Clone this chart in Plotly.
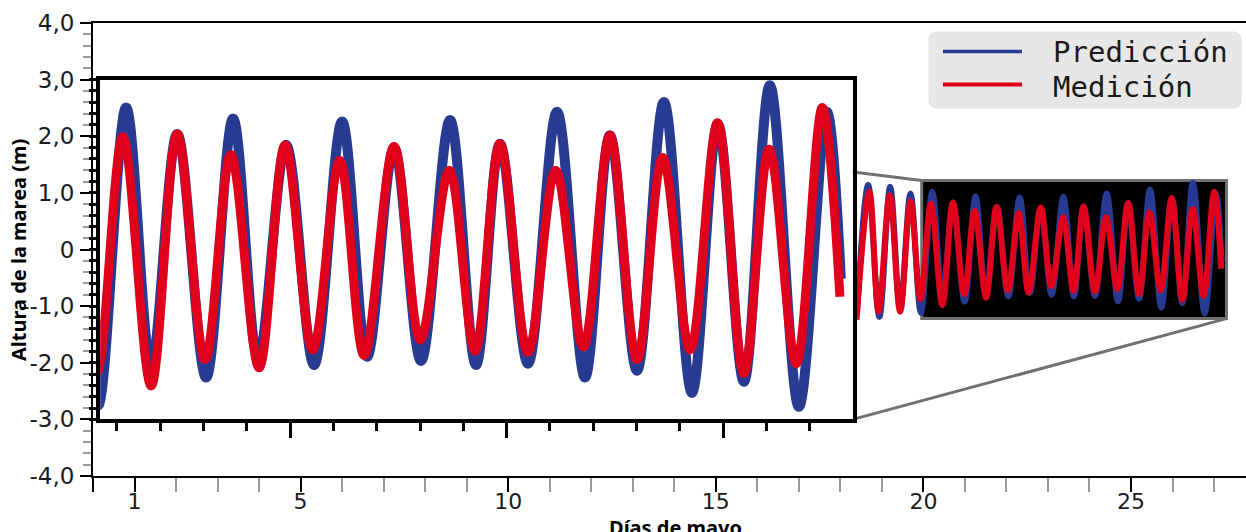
import plotly.graph_objects as go

# ---------------- data ----------------
# Tidal extrema, days of May, metres
days_pred = [18.40, 18.67, 18.94, 19.20, 19.44, 19.69, 19.94, 20.213, 20.457, 20.711,
             20.993, 21.256, 21.500, 21.773, 22.046, 22.319, 22.563, 22.826, 23.089, 23.372,
             23.625, 23.859, 24.132, 24.415, 24.688, 24.931, 25.195, 25.458, 25.731, 25.984,
             26.238, 26.491, 26.774, 27.047, 27.183]
pred = [-1.15, 1.14, -1.19, 1.11, -1.05, 0.99, -1.12, 1.02, -0.83, 0.83,
        -0.92, 0.94, -0.79, 0.75, -0.83, 0.92, -0.77, 0.73, -0.80, 0.93,
        -0.83, 0.76, -0.82, 0.99, -0.92, 0.82, -0.87, 1.06, -1.03, 0.90,
        -0.95, 1.18, -1.13, 0.99, -0.21]

days_meas = [18.39, 18.70, 18.92, 19.19, 19.44, 19.69, 19.93, 20.181, 20.457, 20.711,
             20.983, 21.234, 21.510, 21.763, 22.033, 22.296, 22.534, 22.826, 23.082, 23.365,
             23.615, 23.859, 24.132, 24.402, 24.672, 24.931, 25.195, 25.445, 25.714, 25.981,
             26.238, 26.484, 26.748, 27.002, 27.174]
meas = [-1.24, 1.02, -1.10, 0.96, -1.10, 0.85, -0.88, 0.81, -0.98, 0.83,
        -0.79, 0.68, -0.85, 0.75, -0.72, 0.64, -0.76, 0.74, -0.65, 0.57,
        -0.73, 0.76, -0.74, 0.57, -0.70, 0.82, -0.79, 0.66, -0.72, 0.91,
        -0.89, 0.72, -0.82, 1.02, -0.34]

x_tickvals = [0, 1, 5, 10, 15, 20, 25]
x_ticktext = ["", "1", "5", "10", "15", "20", "25"]
y_tickvals = [4, 3, 2, 1, 0, -1, -2, -3, -4]
y_ticktext = ["4,0", "3,0", "2,0", "1,0", "0", "--1,0", "-2,0", "-3,0", "-4,0"]

legend_labels = ["Predicción", "Medición"]
x_title = "Días de mayo"
y_title = "Altura de la marea (m)"

# ---------------- geometry / style ----------------
W, H = 1246, 532
L, R, T, B = 93, 0, 23, 56
X_RANGE = [0, 27.77]
Y_RANGE = [-4, 4]
BOX_X = [19.96, 27.30]      # magnified region (main axis units)
BOX_Y = [-1.22, 1.22]
INSET_X = [0.173, 18.30]    # where the magnified view is drawn
INSET_Y = [-3.0, 3.0]
INSET_TICK0 = 21.812
INSET_MINOR_DTICK = 0.4224

BLUE = "#283b92"
RED = "#e1001b"
GREY_LINE = "#707070"
FONT = "DejaVu Sans"
TITLE_FONT = "Noto Sans"

pw, ph = W - L - R, H - T - B


def px_x(p):
    return (p - L) / pw


def px_y(p):
    return (H - B - p) / ph


fig = go.Figure()

# main axes (real scale)
fig.add_trace(go.Scatter(x=days_pred, y=pred, mode="lines", name=legend_labels[0],
                         line=dict(color=BLUE, width=6, shape="spline", smoothing=1),
                         xaxis="x", yaxis="y", showlegend=False, hoverinfo="skip"))
fig.add_trace(go.Scatter(x=days_meas, y=meas, mode="lines", name=legend_labels[1],
                         line=dict(color=RED, width=6, shape="spline", smoothing=1),
                         xaxis="x", yaxis="y", showlegend=False, hoverinfo="skip"))
# magnified inset
fig.add_trace(go.Scatter(x=days_pred, y=pred, mode="lines", name=legend_labels[0],
                         line=dict(color=BLUE, width=10, shape="spline", smoothing=1),
                         xaxis="x2", yaxis="y2", showlegend=False, hoverinfo="skip"))
fig.add_trace(go.Scatter(x=days_meas, y=meas, mode="lines", name=legend_labels[1],
                         line=dict(color=RED, width=9, shape="spline", smoothing=1),
                         xaxis="x2", yaxis="y2", showlegend=False, hoverinfo="skip"))

span_x = X_RANGE[1] - X_RANGE[0]
span_y = Y_RANGE[1] - Y_RANGE[0]
inset_dom_x = [(INSET_X[0] - X_RANGE[0]) / span_x, (INSET_X[1] - X_RANGE[0]) / span_x]
inset_dom_y = [(INSET_Y[0] - Y_RANGE[0]) / span_y, (INSET_Y[1] - Y_RANGE[0]) / span_y]

fig.update_layout(
    width=W, height=H,
    margin=dict(l=L, r=R, t=T, b=B, pad=0, autoexpand=False),
    paper_bgcolor="white", plot_bgcolor="white",
    showlegend=False,
    xaxis=dict(range=X_RANGE, domain=[0, 1], showline=True, linecolor="black", linewidth=2,
               mirror=True, ticks="outside", ticklen=14, tickwidth=2, tickcolor="black",
               tickmode="array", tickvals=x_tickvals, ticktext=x_ticktext,
               tickfont=dict(family=FONT, size=22, color="#1a1a1a"), ticklabelstandoff=-9,
               minor=dict(ticks="outside", ticklen=14, tickwidth=2, tickcolor="#9a9a9a",
                          tick0=0, dtick=1),
               showgrid=False, zeroline=False, fixedrange=True, automargin=False),
    yaxis=dict(range=Y_RANGE, domain=[0, 1], showline=True, linecolor="black", linewidth=2,
               ticks="outside", ticklen=11, tickwidth=2, tickcolor="black",
               tickmode="array", tickvals=y_tickvals, ticktext=y_ticktext,
               tickfont=dict(family=FONT, size=23, color="#1a1a1a"), ticklabelstandoff=1,
               minor=dict(ticks="outside", ticklen=8, tickwidth=2, tickcolor="#9a9a9a",
                          tick0=0, dtick=0.2),
               showgrid=False, zeroline=False, fixedrange=True, automargin=False),
    xaxis2=dict(domain=inset_dom_x, range=BOX_X, anchor="y2", showline=True, mirror=True,
                linecolor="black", linewidth=4, ticks="outside", ticklen=15, tickwidth=3,
                tickcolor="black", tick0=INSET_TICK0, dtick=5 * INSET_MINOR_DTICK,
                showticklabels=False,
                minor=dict(ticks="outside", ticklen=8, tickwidth=3, tickcolor="black",
                           tick0=INSET_TICK0, dtick=INSET_MINOR_DTICK),
                showgrid=False, zeroline=False, fixedrange=True, automargin=False),
    yaxis2=dict(domain=inset_dom_y, range=BOX_Y, anchor="x2", showline=True, mirror=True,
                linecolor="black", linewidth=4, ticks="outside", ticklen=7, tickwidth=3,
                tickcolor="black", tick0=0, dtick=(BOX_Y[1] - BOX_Y[0]) / 30,
                showticklabels=False, showgrid=False, zeroline=False, fixedrange=True,
                automargin=False),
)

shapes = []
# magnified region on the main axis
shapes.append(dict(type="rect", xref="x", yref="y", x0=BOX_X[0], x1=BOX_X[1],
                   y0=BOX_Y[0], y1=BOX_Y[1], fillcolor="black",
                   line=dict(color=GREY_LINE, width=3), layer="below"))
# connector lines
shapes.append(dict(type="line", xref="x", yref="y", x0=INSET_X[0], y0=INSET_Y[1],
                   x1=BOX_X[0], y1=BOX_Y[1], line=dict(color=GREY_LINE, width=3), layer="below"))
shapes.append(dict(type="line", xref="x", yref="y", x0=INSET_X[1], y0=INSET_Y[0],
                   x1=BOX_X[1], y1=BOX_Y[0], line=dict(color=GREY_LINE, width=3), layer="below"))

# custom legend box (rounded)
lx0, lx1, ly0, ly1, r = 929, 1241, 32, 108, 8
path = (f"M {px_x(lx0 + r)},{px_y(ly0)} L {px_x(lx1 - r)},{px_y(ly0)} "
        f"Q {px_x(lx1)},{px_y(ly0)} {px_x(lx1)},{px_y(ly0 + r)} "
        f"L {px_x(lx1)},{px_y(ly1 - r)} Q {px_x(lx1)},{px_y(ly1)} {px_x(lx1 - r)},{px_y(ly1)} "
        f"L {px_x(lx0 + r)},{px_y(ly1)} Q {px_x(lx0)},{px_y(ly1)} {px_x(lx0)},{px_y(ly1 - r)} "
        f"L {px_x(lx0)},{px_y(ly0 + r)} Q {px_x(lx0)},{px_y(ly0)} {px_x(lx0 + r)},{px_y(ly0)} Z")
shapes.append(dict(type="path", xref="paper", yref="paper", path=path,
                   fillcolor="#e7e7e7", line=dict(color="#e0e0e0", width=1), layer="above"))
for yy, col, wdt in [(51.5, BLUE, 3.5), (84.5, RED, 4)]:
    shapes.append(dict(type="line", xref="paper", yref="paper", x0=px_x(943), x1=px_x(1022),
                       y0=px_y(yy), y1=px_y(yy), line=dict(color=col, width=wdt), layer="above"))

annotations = []
for label, yy in zip(legend_labels, [52, 87]):
    annotations.append(dict(text=label, xref="paper", yref="paper", x=px_x(1051), y=px_y(yy),
                            xanchor="left", yanchor="middle", showarrow=False,
                            font=dict(family="DejaVu Sans Mono", size=29, color="#1a1a1a")))
annotations.append(dict(text=f"<b>{x_title}</b>", xref="paper", yref="paper",
                        x=px_x(675), y=px_y(512), xanchor="center", yanchor="top",
                        showarrow=False, font=dict(family=TITLE_FONT, size=20, color="black")))
annotations.append(dict(text=f"<b>{y_title}</b>", xref="paper", yref="paper",
                        x=px_x(18), y=px_y(250), xanchor="center", yanchor="middle",
                        textangle=-90, showarrow=False,
                        font=dict(family=TITLE_FONT, size=20, color="black")))

fig.update_layout(shapes=shapes, annotations=annotations)

fig.write_html("out.html",
               config={"displayModeBar": False},
               post_script="document.body.style.margin='0px';"
                           "document.body.style.overflow='hidden';")
